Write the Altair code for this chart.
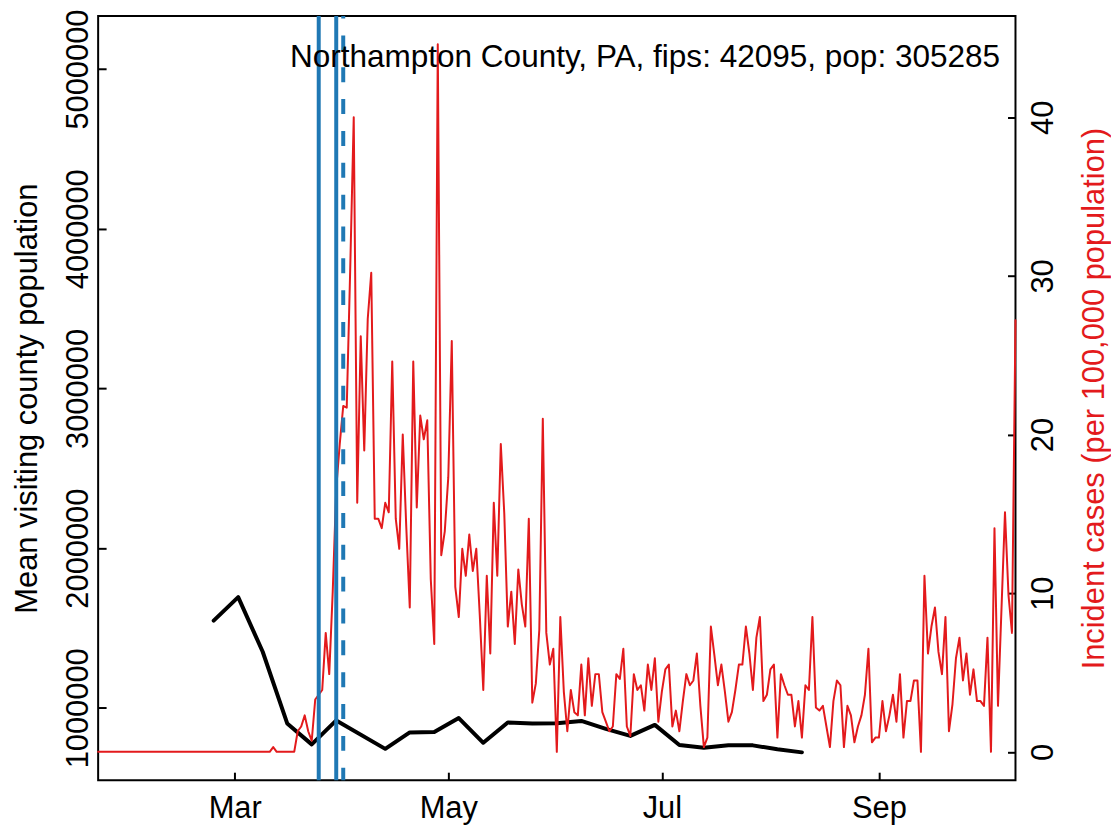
import altair as alt
import pandas as pd

FONT = "Liberation Sans"
RED = "#E31A1C"
BLUE = "#1F78B4"

chart_title = "Northampton County, PA, fips: 42095, pop: 305285"
left_axis_title = "Mean visiting county population"
right_axis_title = "Incident cases (per 100,000 population)"

# Daily incident cases per 100,000 population, one value per day from 2020-01-22
first_case_date = "2020-01-22"
incident_cases = [
    0, 0, 0, 0, 0, 0, 0, 0, 0, 0,
    0, 0, 0, 0, 0, 0, 0, 0, 0, 0,
    0, 0, 0, 0, 0, 0, 0, 0, 0, 0,
    0, 0, 0, 0, 0, 0, 0, 0, 0, 0,
    0, 0, 0, 0, 0, 0, 0, 0, 0, 0,
    0.3, 0, 0, 0, 0, 0, 0,
    1.3, 1.6, 2.3, 1.3, 0.7, 3.3, 3.6, 3.9, 7.5, 4.9,
    10.1, 16.6, 19.4, 21.8, 21.7, 30.5, 40.0, 15.7, 26.2, 19.0,
    27.3, 30.2, 14.7, 14.7, 14.1, 15.7, 15.1, 24.6, 14.7, 12.8,
    20.0, 14.2, 9.1, 24.6, 15.4, 21.2, 19.7, 20.9, 10.9, 6.8,
    44.6, 12.4, 13.9, 17.3, 25.9, 10.4, 8.5, 12.8, 11.1, 13.7,
    11.4, 12.8, 8.6, 3.9, 11.1, 6.2, 15.7, 11.1, 19.4, 15.0,
    7.9, 10.1, 6.8, 11.5, 9.3, 7.9, 14.7, 3.1, 4.3, 7.7,
    21.0, 7.5, 5.5, 6.5, 0, 8.5, 3.8, 1.3, 3.9, 2.5,
    2.3, 5.5, 2.3, 5.9, 2.9, 4.9, 4.9, 2.5, 1.9, 1.3,
    1.6, 4.9, 4.6, 6.5, 1.6, 1.0, 4.9, 3.9, 4.2, 2.6,
    5.5, 3.9, 5.9, 1.9, 3.8, 5.2, 5.5, 1.6, 2.6, 1.3,
    3.2, 4.9, 4.2, 4.5, 6.2, 2.9, 0.3, 0.9, 7.9, 6.1,
    4.2, 5.5, 3.8, 1.9, 2.5, 3.9, 5.5, 5.5, 7.9, 6.2,
    3.9, 7.2, 8.5, 3.2, 3.6, 5.2, 5.5, 0.9, 4.9, 4.2,
    3.6, 3.6, 1.6, 3.2, 0.9, 4.2, 3.9, 8.5, 2.8, 2.6,
    2.9, 1.6, 0.3, 3.2, 4.5, 4.2, 0.3, 2.9, 2.3, 0.6,
    1.6, 2.3, 3.6, 6.5, 0.6, 0.9, 0.9, 3.2, 1.3, 2.3,
    3.6, 1.9, 4.9, 0.9, 3.2, 3.2, 4.5, 4.5, 0, 11.1,
    6.2, 7.9, 9.1, 6.3, 4.9, 8.5, 1.3, 3.0, 5.9, 7.2,
    4.5, 6.2, 3.6, 5.2, 3.2, 3.2, 2.9, 7.2, 0, 14.1,
    2.9, 9.0, 15.1, 9.9, 7.5, 27.2,
]

# Weekly mean visiting county population
visit_weeks = [
    "2020-02-24", "2020-03-02", "2020-03-09", "2020-03-16", "2020-03-23",
    "2020-03-30", "2020-04-13", "2020-04-20", "2020-04-27", "2020-05-04",
    "2020-05-11", "2020-05-18", "2020-05-25", "2020-06-01", "2020-06-08",
    "2020-06-15", "2020-06-22", "2020-06-29", "2020-07-06", "2020-07-13",
    "2020-07-20", "2020-07-27", "2020-08-03", "2020-08-10",
]
visit_population = [
    1546000, 1693000, 1351000, 902000, 771000,
    921000, 743000, 846000, 848000, 936000,
    781000, 908000, 902000, 903000, 918000,
    868000, 824000, 893000, 767000, 750000,
    765000, 765000, 740000, 721000,
]

solid_line_dates = ["2020-03-25", "2020-03-30"]
dashed_line_dates = ["2020-04-01"]

month_ticks = [3, 5, 7, 9]
population_ticks = [1000000, 2000000, 3000000, 4000000, 5000000]
case_ticks = [0, 10, 20, 30, 40]

case_dates = pd.date_range(first_case_date, periods=len(incident_cases)).strftime("%Y-%m-%d")
cases_df = pd.DataFrame({"date": list(case_dates), "cases": incident_cases})
visits_df = pd.DataFrame({"date": visit_weeks, "population": visit_population})
solid_df = pd.DataFrame({"date": solid_line_dates})
dashed_df = pd.DataFrame({"date": dashed_line_dates})
title_df = pd.DataFrame({"label": [chart_title]})

W, H = 922, 768
FS = 31

x_scale = alt.Scale(
    type="utc", nice=False,
    domain=[alt.DateTime(year=2020, month=1, date=22, utc=True),
            alt.DateTime(year=2020, month=10, date=10, utc=True)],
)
x_axis = alt.Axis(
    values=[alt.DateTime(year=2020, month=m, date=1, utc=True) for m in month_ticks],
    format="%b", formatType="utc", labelExpr="substring(datum.label, 0, 3)",
    title=None, orient="bottom",
    offset=-8, tickSize=8, tickWidth=2, tickColor="black", domain=False, grid=False,
    labelFont=FONT, labelFontSize=FS, labelColor="black", labelPadding=38,
    labelBaseline="alphabetic", labelAlign="center", labelOverlap=False, labelFlush=False,
)
x_enc = alt.X("date:T", scale=x_scale, axis=x_axis)

black = alt.Chart(visits_df).mark_line(
    color="black", strokeWidth=4, strokeJoin="round", strokeCap="round"
).encode(
    x=x_enc,
    y=alt.Y(
        "population:Q",
        scale=alt.Scale(domain=[547000, 5332000], nice=False, zero=False),
        axis=alt.Axis(
            orient="left", values=population_ticks, format="d", title=left_axis_title,
            offset=-8, tickSize=8, tickWidth=2, tickColor="black", domain=False, grid=False,
            labelAngle=270, labelAlign="center", labelBaseline="alphabetic", labelPadding=10.6,
            labelFont=FONT, labelFontSize=FS, labelColor="black", labelOverlap=False, labelFlush=False,
            titleFont=FONT, titleFontSize=FS, titleFontWeight="normal", titleColor="black",
            titleAngle=270, titleAlign="center", titleBaseline="alphabetic", titleX=-69.6, titleY=384,
        ),
    ),
)

red = alt.Chart(cases_df).mark_line(
    color=RED, strokeWidth=2, strokeJoin="round", strokeCap="round"
).encode(
    x=x_enc,
    y=alt.Y(
        "cases:Q",
        scale=alt.Scale(domain=[-1.784, 46.384], nice=False, zero=False),
        axis=alt.Axis(
            orient="right", values=case_ticks, format="d", title=right_axis_title,
            offset=-8, tickSize=8, tickWidth=2, tickColor="black", domain=False, grid=False,
            labelAngle=270, labelAlign="center", labelBaseline="alphabetic", labelPadding=37,
            labelFont=FONT, labelFontSize=FS, labelColor="black", labelOverlap=False, labelFlush=False,
            titleFont=FONT, titleFontSize=FS, titleFontWeight="normal", titleColor=RED,
            titleAngle=270, titleAlign="center", titleBaseline="alphabetic", titleX=96, titleY=384,
        ),
    ),
)

solid = alt.Chart(solid_df).mark_rule(color=BLUE, strokeWidth=4).encode(x=x_enc)
dashed = alt.Chart(dashed_df).mark_rule(
    color=BLUE, strokeWidth=4, strokeDash=[15, 17], strokeDashOffset=12.5
).encode(x=x_enc)

title_text = alt.Chart(title_df).mark_text(
    align="right", baseline="alphabetic", font=FONT, fontSize=31.7, color="black"
).encode(x=alt.value(906.5), y=alt.value(51), text="label:N")

chart = (
    alt.layer(black, red, solid, dashed, title_text)
    .resolve_scale(y="independent")
    .properties(
        width=W, height=H,
        autosize=alt.AutoSizeParams(type="none"),
        padding={"left": 90.6, "top": 6, "right": 96, "bottom": 44},
        background="white",
    )
    .configure_view(stroke="black", strokeWidth=2)
)

chart.save("out.html", embed_options={"renderer": "svg", "actions": False})
